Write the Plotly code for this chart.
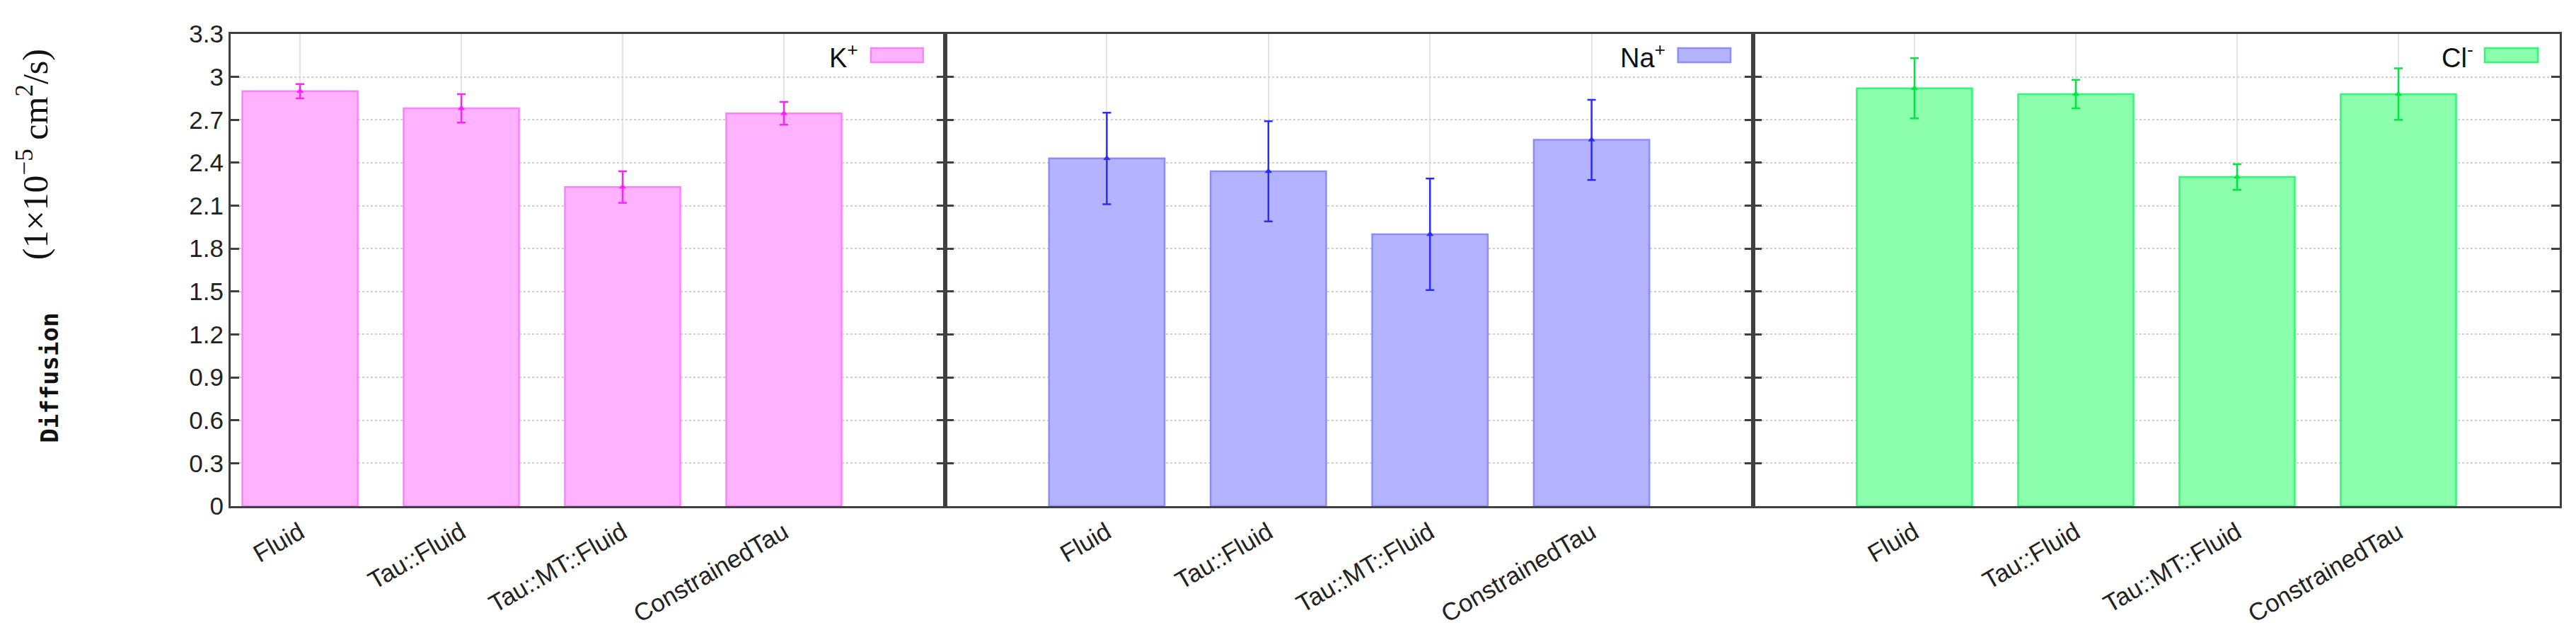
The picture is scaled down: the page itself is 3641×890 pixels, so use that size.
import plotly.graph_objects as go

# values
methods = ["Fluid", "Tau::Fluid", "Tau::MT::Fluid", "ConstrainedTau"]

k_values = [2.90, 2.78, 2.23, 2.745]
k_errors = [0.05, 0.10, 0.11, 0.08]

na_values = [2.43, 2.34, 1.90, 2.56]
na_errors = [0.32, 0.35, 0.39, 0.28]

cl_values = [2.92, 2.88, 2.30, 2.88]
cl_errors = [0.21, 0.10, 0.09, 0.18]

ion_labels = ["K<sup>+</sup>", "Na<sup>+</sup>", "Cl<sup>-</sup>"]

y_ticks = [0, 0.3, 0.6, 0.9, 1.2, 1.5, 1.8, 2.1, 2.4, 2.7, 3.0, 3.3]
y_tick_text = ["0", "0.3", "0.6", "0.9", "1.2", "1.5", "1.8", "2.1", "2.4", "2.7", "3", "3.3"]

panels = [
    (k_values, k_errors, "#FFB3FF", "#FF80FF", "#FF22FF"),
    (na_values, na_errors, "#B3B3FF", "#8C8CFF", "#2B2BFF"),
    (cl_values, cl_errors, "#8CFFAD", "#33F57A", "#00E640"),
]

axis_col = "#404040"
tick_font = dict(family="Liberation Sans", size=35, color="#222222")

fig = go.Figure()

# first panel is narrower: its left edge sits close to the first bar
domains = [[0, 0.3068], [0.3068, 0.6537], [0.6537, 1]]
x_ranges = [[-0.43, 4], [-1, 4], [-1, 4]]
legend_x = [(0.880, 0.896, 0.969), (0.893, 0.907, 0.972), (0.895, 0.907, 0.973)]

for i, (vals, errs, fill, edge, err_col) in enumerate(panels):
    n = "" if i == 0 else str(i + 1)
    xa, ya = "x" + n, "y" + n

    fig.add_trace(
        go.Bar(
            x=methods,
            y=vals,
            width=0.715,
            marker=dict(color=fill, line=dict(color=edge, width=2.5)),
            xaxis=xa,
            yaxis=ya,
            showlegend=False,
        )
    )
    fig.add_trace(
        go.Scatter(
            x=methods,
            y=vals,
            mode="markers",
            marker=dict(symbol="triangle-up", size=9, color=err_col),
            error_y=dict(type="data", array=errs, color=err_col, thickness=2.5, width=6),
            xaxis=xa,
            yaxis=ya,
            showlegend=False,
        )
    )

    fig.update_layout(
        {
            "xaxis" + n: dict(
                domain=domains[i],
                anchor=ya,
                type="category",
                range=x_ranges[i],
                showline=True,
                mirror=True,
                linecolor=axis_col,
                linewidth=3,
                ticks="inside",
                ticklen=10,
                tickwidth=2,
                tickcolor=axis_col,
                tickangle=-30,
                tickfont=tick_font,
                showgrid=True,
                gridcolor="#e4e4e4",
                gridwidth=2,
                layer="below traces",
            ),
            "yaxis" + n: dict(
                anchor=xa,
                domain=[0, 1],
                range=[0, 3.3],
                tickvals=y_ticks,
                ticktext=y_tick_text,
                showticklabels=(i == 0),
                showline=True,
                mirror="allticks",
                linecolor=axis_col,
                linewidth=3,
                ticks="inside",
                ticklen=12,
                tickwidth=3,
                tickcolor=axis_col,
                tickfont=tick_font,
                showgrid=True,
                gridcolor="#d0d0d0",
                gridwidth=2,
                griddash="dot",
                zeroline=False,
            ),
        }
    )

    # legend: ion label followed by a coloured swatch, top right of each panel
    tx, sx0, sx1 = legend_x[i]
    fig.add_annotation(
        text=ion_labels[i],
        xref=xa + " domain",
        yref="paper",
        x=tx,
        y=0.953,
        xanchor="right",
        yanchor="middle",
        showarrow=False,
        font=dict(family="Liberation Sans", size=38, color="#111111"),
    )
    fig.add_shape(
        type="rect",
        xref=xa + " domain",
        yref="paper",
        x0=sx0,
        x1=sx1,
        y0=0.940,
        y1=0.970,
        fillcolor=fill,
        line=dict(color=edge, width=2.5),
    )

# y-axis titles, placed in the left margin
fig.add_annotation(
    text="<b>Diffusion</b>",
    xref="paper",
    yref="paper",
    x=-0.078,
    y=0.272,
    xanchor="center",
    yanchor="middle",
    textangle=-90,
    showarrow=False,
    font=dict(family="DejaVu Sans Mono", size=34, color="#111111"),
)
fig.add_annotation(
    text="(1×10<sup>−5</sup> cm<sup>2</sup>/s)",
    xref="paper",
    yref="paper",
    x=-0.085,
    y=0.745,
    xanchor="center",
    yanchor="middle",
    textangle=-90,
    showarrow=False,
    font=dict(family="Liberation Serif", size=50, color="#111111"),
)

fig.update_layout(
    width=3641,
    height=890,
    margin=dict(l=318, r=31, t=40, b=178),
    plot_bgcolor="white",
    paper_bgcolor="white",
)

fig.write_html("out.html")
